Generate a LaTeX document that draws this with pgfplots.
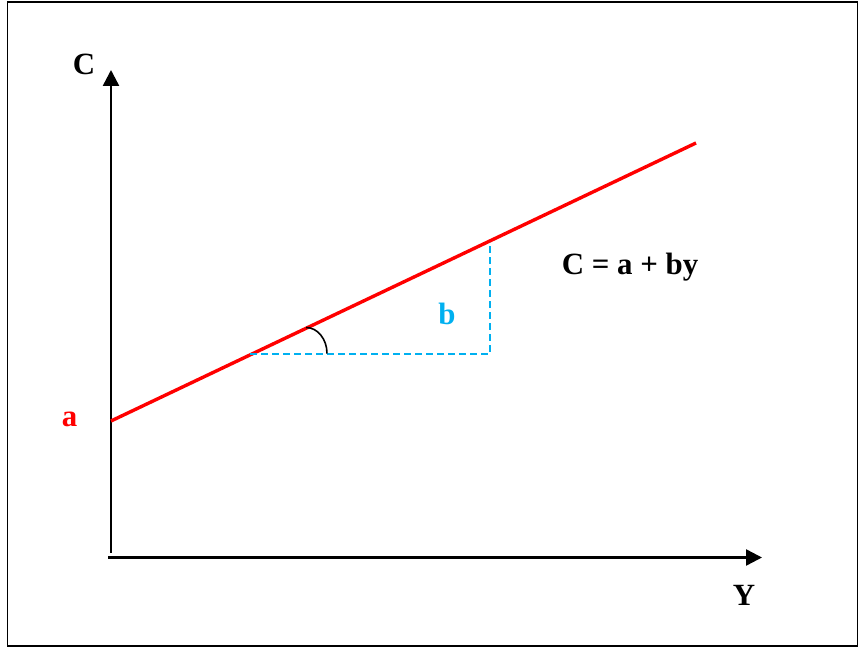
\documentclass[border=0pt]{standalone}
\usepackage{pgfplots}
\pgfplotsset{compat=1.18}
\usepackage{fontspec}
\setmainfont{Liberation Serif}
\usetikzlibrary{arrows.meta}
\definecolor{lblue}{RGB}{0,176,240}
\begin{document}
\begin{tikzpicture}
\begin{axis}[
  scale only axis, width=859bp, height=648bp,
  xmin=0, xmax=859, ymin=0, ymax=648,
  hide axis, clip=false,
]
\path (axis cs:0,0) rectangle (axis cs:859,648);
% frame
\draw[black, line width=1.8bp] (axis cs:7.5,2) rectangle (axis cs:857.5,646);
% axes
\addplot[black, line width=2.4bp, -{Triangle[length=16bp,width=16bp]}] coordinates {(111,95) (111,578)};
\addplot[black, line width=2.4bp, -{Triangle[length=16bp,width=16bp]}] coordinates {(108,90.5) (762,90.5)};
% consumption line
\addplot[red, line width=3.4bp] coordinates {(111,227) (696,505)};
% slope triangle
\addplot[lblue, line width=1.5bp, dash pattern=on 7bp off 4bp] coordinates {(250,294) (490,294) (490,406)};
% angle arc
\draw[black, line width=1.6bp] (axis cs:306,320.5) arc[start angle=90, end angle=0, x radius=21, y radius=26];
% labels
\node[anchor=base, font=\fontsize{31}{35}\selectfont\bfseries] at (axis cs:84,573) {C};
\node[anchor=base, font=\fontsize{31}{35}\selectfont\bfseries] at (axis cs:744,42) {Y};
\node[anchor=base, font=\fontsize{31}{35}\selectfont\bfseries, text=red] at (axis cs:69.5,221) {a};
\node[anchor=base, font=\fontsize{31}{35}\selectfont\bfseries, text=lblue] at (axis cs:447,323) {b};
\node[anchor=base, font=\fontsize{31}{35}\selectfont\bfseries] at (axis cs:630,373) {C = a + by};
\end{axis}
\end{tikzpicture}
\end{document}
